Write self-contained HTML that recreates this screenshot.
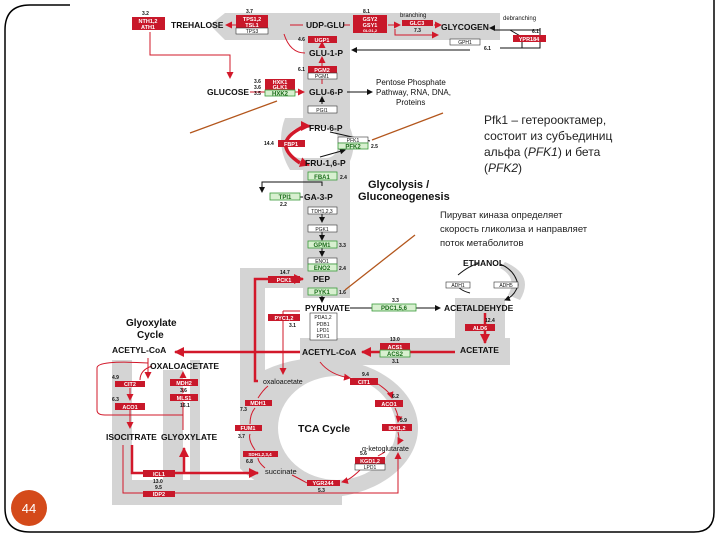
<!DOCTYPE html>
<html><head><meta charset="utf-8"><style>
html,body{margin:0;padding:0;background:#fff}
svg{display:block}
text{font-family:"Liberation Sans",sans-serif}
.m{font-size:8.5px;font-weight:bold;fill:#111}
.n{font-size:5px;font-weight:bold;fill:#111}
.e{font-size:5.5px;font-weight:bold;fill:#fff}
.eb{font-size:5px;fill:#111}
.eg{font-size:6px;font-weight:bold;fill:#1a6b1a}
.ru{font-family:"Liberation Sans","DejaVu Sans",sans-serif;fill:#222}
</style></head><body>
<svg width="720" height="540" viewBox="0 0 720 540" xmlns="http://www.w3.org/2000/svg">
<defs>
<marker id="ak" markerWidth="6" markerHeight="6" refX="5" refY="3" orient="auto" markerUnits="userSpaceOnUse"><path d="M0,0L6,3L0,6z" fill="#111"/></marker>
<marker id="ar" markerWidth="7" markerHeight="7" refX="6" refY="3.5" orient="auto" markerUnits="userSpaceOnUse"><path d="M0,0L7,3.5L0,7z" fill="#d2182a"/></marker>
<marker id="arB" markerWidth="10" markerHeight="10" refX="9" refY="5" orient="auto" markerUnits="userSpaceOnUse"><path d="M0,0L10,5L0,10z" fill="#d2182a"/></marker>
</defs>
<!-- frame -->
<path d="M70,5 H30 Q5,5 5,30 V508 Q5,532 30,532 H694 Q714,532 714,512 V0" fill="none" stroke="#000" stroke-width="1.5"/>
<!-- gray bands -->
<g fill="#d4d4d4">
<path d="M210,25 L225,13 H500 V40 H350 V290 H303 V40 H225 Z"/>
<rect x="303" y="13" width="47" height="285"/>
<path d="M285,118 Q275,145 290,170 H345 Q362,145 345,118 Z"/>
<rect x="240" y="268" width="110" height="20"/>
<rect x="240" y="268" width="25" height="130"/>
<ellipse cx="320" cy="428" rx="98" ry="70"/>
<rect x="300" y="338" width="210" height="27"/>
<rect x="455" y="298" width="50" height="67"/>
<path d="M505,262 Q535,275 520,300 L508,295 Q518,278 500,268 Z"/>
<path d="M112,360 H200 V505 H330 V480 H190 V360 Z" />
<rect x="112" y="360" width="20" height="145"/>
<rect x="163" y="370" width="20" height="110"/>
<rect x="112" y="480" width="230" height="25"/>
</g>
<ellipse cx="337" cy="428" rx="59" ry="52" fill="#fff"/>
<rect x="133" y="372" width="29" height="92" fill="#fff"/>
<rect x="200" y="372" width="40" height="100" fill="#fff"/>
<rect x="288" y="128" width="50" height="30" fill="#fff" rx="12"/>

<!-- black connectors -->
<g stroke="#111" stroke-width="1" fill="none">
<line x1="347" y1="92" x2="372" y2="92" marker-end="url(#ak)"/>
<line x1="322" y1="104" x2="322" y2="97" marker-end="url(#ak)"/>
<path d="M330,132 L370,141" />
<path d="M320,157 L345,150" marker-end="url(#ak)"/>
<path d="M322,186 V182 H262 V192" marker-end="url(#ak)"/>
<line x1="303" y1="197" x2="300" y2="197"/>
<line x1="322" y1="214" x2="322" y2="222" marker-end="url(#ak)"/>
<line x1="322" y1="232" x2="322" y2="240" marker-end="url(#ak)"/>
<line x1="322" y1="248" x2="322" y2="256" marker-end="url(#ak)"/>
<line x1="322" y1="296" x2="322" y2="302" marker-end="url(#ak)"/>
<line x1="350" y1="308" x2="440" y2="308" marker-end="url(#ak)"/>
<path d="M522,48 V37 L510,30 M500,48 H540 V30 H495" />
<path d="M470,50 H352" marker-end="url(#ak)"/>
<path d="M540,28 V48" />
<path d="M495,28 L490,28" marker-end="url(#ak)"/>
<path d="M458,275 Q470,265 478,264 M500,264 Q515,270 518,285 Q515,296 505,300" marker-end="url(#ak)"/>
<path d="M470,293 Q458,290 455,282"/>
</g>
<!-- red thin connectors -->
<g stroke="#d2182a" stroke-width="1" fill="none">
<path d="M150,32 V55 H230 V78" marker-end="url(#ar)"/>
<line x1="236" y1="25" x2="226" y2="25" marker-end="url(#ar)"/>
<path d="M290,25 L303,25" />
<path d="M350,25 L343,25"/>
<path d="M388,25 H400" marker-end="url(#ar)"/>
<path d="M434,25 H441" marker-end="url(#ar)"/>
<path d="M395,29 V35 H438" marker-end="url(#ar)"/>
<path d="M284,34 Q290,53 305,53"/>
<line x1="322" y1="48" x2="322" y2="42" marker-end="url(#ar)"/>
<line x1="322" y1="84" x2="322" y2="57" marker-end="url(#ar)"/>
<line x1="250" y1="92" x2="304" y2="92" marker-end="url(#ar)"/>
<path d="M283,311 H300 M283,311 V374" marker-end="url(#ar)"/>
<path d="M320,362 Q330,375 350,378" marker-end="url(#ar)"/>
<path d="M378,384 Q390,392 392,398" marker-end="url(#ar)"/>
<path d="M395,408 Q399,416 398,422" marker-end="url(#ar)"/>
<path d="M398,432 Q400,440 398,444" marker-end="url(#ar)"/>
<path d="M385,452 L378,456"/>
<path d="M360,470 Q350,480 342,482" marker-end="url(#ar)"/>
<path d="M307,483 Q298,478 292,475"/>
<path d="M265,468 Q258,462 258,458"/>
<path d="M255,450 Q248,440 250,434"/>
<path d="M250,424 Q250,414 255,408"/>
<path d="M258,398 Q263,390 268,386"/>
<path d="M148,358 V378" marker-end="url(#ar)"/>
<path d="M130,388 V400" marker-end="url(#ar)"/>
<path d="M130,410 V428" marker-end="url(#ar)"/>
<path d="M148,363 Q97,360 97,368 V410 Q97,415 105,415 H183 V402"/>
<path d="M183,393 V388"/>
<path d="M183,378 V372" marker-end="url(#ar)"/>
<path d="M183,408 V430"/>
<path d="M152,366 Q140,370 140,380"/>
<path d="M123,445 V493 H143 M175,493 H398 V453" marker-end="url(#ar)"/>
</g>
<!-- red thick -->
<g stroke="#d2182a" fill="none" stroke-width="2.5">
<path d="M258,381 H255 V279 H303" marker-end="url(#arB)"/>
<line x1="300" y1="352" x2="175" y2="352" marker-end="url(#arB)"/>
<line x1="455" y1="352" x2="362" y2="352" marker-end="url(#arB)"/>
<line x1="485" y1="313" x2="485" y2="343" marker-end="url(#arB)"/>
<path d="M132,445 V473 H258" marker-end="url(#arB)"/>
<path d="M184,473 V448" marker-end="url(#arB)"/>
<path d="M303,127 Q270,143 300,163" stroke-width="3.5"/>
<path d="M303,163 Q306,164 309,165" marker-end="url(#arB)"/>
<path d="M300,128 Q306,126 310,126" marker-end="url(#arB)"/>
</g>
<!-- brown pointer arrows -->
<g stroke="#b3561c" stroke-width="1.3">
<line x1="190" y1="133" x2="277" y2="101"/>
<line x1="443" y1="113" x2="372" y2="140"/>
<line x1="415" y1="235" x2="345" y2="290"/>
</g>

<!-- red enzyme boxes -->
<g fill="#c8182a">
<rect x="132" y="17" width="33" height="13"/>
<rect x="236" y="15" width="32" height="13"/>
<rect x="353" y="15" width="34" height="18"/>
<rect x="402" y="20" width="31" height="6"/>
<rect x="513" y="35" width="33" height="7"/>
<rect x="308" y="36" width="29" height="7"/>
<rect x="308" y="66" width="29" height="7"/>
<rect x="265" y="79" width="30" height="11"/>
<rect x="278" y="140" width="27" height="7"/>
<rect x="268" y="276" width="32" height="7"/>
<rect x="268" y="314" width="32" height="7"/>
<rect x="465" y="324" width="30" height="7"/>
<rect x="380" y="343" width="30" height="7"/>
<rect x="115" y="381" width="30" height="6"/>
<rect x="115" y="403" width="30" height="7"/>
<rect x="170" y="379" width="28" height="7"/>
<rect x="170" y="394" width="28" height="7"/>
<rect x="143" y="470" width="32" height="7"/>
<rect x="143" y="491" width="32" height="6"/>
<rect x="350" y="378" width="28" height="7"/>
<rect x="375" y="400" width="28" height="7"/>
<rect x="382" y="424" width="30" height="7"/>
<rect x="355" y="457" width="30" height="7"/>
<rect x="307" y="480" width="33" height="6"/>
<rect x="243" y="451" width="35" height="6"/>
<rect x="235" y="425" width="27" height="6"/>
<rect x="245" y="400" width="27" height="6"/>
</g>
<g fill="#fff" stroke="#333" stroke-width="0.6">
<rect x="236" y="28" width="32" height="6"/>
<rect x="450" y="39" width="30" height="6"/>
<rect x="308" y="73" width="29" height="6"/>
<rect x="308" y="106" width="29" height="7"/>
<rect x="338" y="137" width="30" height="6"/>
<rect x="308" y="207" width="29" height="7"/>
<rect x="308" y="225" width="29" height="7"/>
<rect x="308" y="258" width="29" height="6"/>
<rect x="310" y="313" width="27" height="27"/>
<rect x="446" y="282" width="24" height="6"/>
<rect x="494" y="282" width="24" height="6"/>
<rect x="355" y="464" width="30" height="6"/>
</g>
<g fill="#d8f0d0" stroke="#3a9a3a" stroke-width="0.8">
<rect x="265" y="90" width="30" height="6"/>
<rect x="338" y="143" width="30" height="6"/>
<rect x="308" y="172" width="29" height="8"/>
<rect x="270" y="193" width="30" height="7"/>
<rect x="308" y="241" width="29" height="7"/>
<rect x="308" y="264" width="29" height="7"/>
<rect x="308" y="288" width="29" height="7"/>
<rect x="372" y="304" width="44" height="7"/>
<rect x="380" y="350" width="30" height="7"/>
</g>
<!-- enzyme labels -->
<g text-anchor="middle">
<text class="e" x="148" y="23">NTH1,2</text><text class="e" x="148" y="29">ATH1</text>
<text class="e" x="252" y="21">TPS1,2</text><text class="e" x="252" y="27">TSL1</text><text class="eb" x="252" y="33">TPS3</text>
<text class="e" x="370" y="21">GSY2</text><text class="e" x="370" y="27">GSY1</text><text class="e" x="370" y="32" style="font-size:4px">GLG1,2</text>
<text class="e" x="417" y="25">GLC3</text><text class="e" x="529" y="41">YPR184</text><text class="eb" x="465" y="44">GPH1</text>
<text class="e" x="322" y="42">UGP1</text><text class="e" x="322" y="72">PGM2</text><text class="eb" x="322" y="78">PGM1</text>
<text class="e" x="280" y="84">HXK1</text><text class="e" x="280" y="89">GLK1</text><text class="eg" x="280" y="95.5">HXK2</text>
<text class="eb" x="322" y="112">PGI1</text>
<text class="e" x="291" y="146">FBP1</text><text class="eb" x="353" y="142">PFK1</text><text class="eg" x="353" y="148.5">PFK2</text>
<text class="eg" x="322" y="179">FBA1</text><text class="eg" x="285" y="199">TPI1</text>
<text class="eb" x="322" y="213">TDH1,2,3</text><text class="eb" x="322" y="231">PGK1</text><text class="eg" x="322" y="247">GPM1</text>
<text class="eb" x="322" y="263">ENO1</text><text class="eg" x="322" y="270">ENO2</text><text class="eg" x="322" y="294">PYK1</text>
<text class="e" x="284" y="282">PCK1</text><text class="e" x="284" y="320">PYC1,2</text>
<text class="eb" x="323" y="319">PDA1,2</text><text class="eb" x="323" y="326">PDB1</text><text class="eb" x="323" y="332">LPD1</text><text class="eb" x="323" y="338">PDX1</text>
<text class="eg" x="394" y="310">PDC1,5,6</text>
<text class="eb" x="458" y="287">ADH1</text><text class="eb" x="506" y="287">ADH5</text>
<text class="e" x="480" y="330">ALD6</text><text class="e" x="395" y="349">ACS1</text><text class="eg" x="395" y="356">ACS2</text>
<text class="e" x="130" y="386">CIT2</text><text class="e" x="130" y="409">ACO1</text><text class="e" x="184" y="385">MDH2</text><text class="e" x="184" y="400">MLS1</text>
<text class="e" x="159" y="476">ICL1</text><text class="e" x="159" y="496">IDP2</text>
<text class="e" x="364" y="384">CIT1</text><text class="e" x="389" y="406">ACO1</text><text class="e" x="397" y="430">IDH1,2</text>
<text class="e" x="370" y="463">KGD1,2</text><text class="eb" x="370" y="469">LPD1</text><text class="e" x="323" y="485">YGR244</text>
<text class="e" x="260" y="456" style="font-size:4.5px">SDH1,2,3,4</text><text class="e" x="248" y="430">FUM1</text><text class="e" x="258" y="405">MDH1</text>
</g>
<!-- numbers -->
<g class="n">
<text x="142" y="15">3.2</text><text x="246" y="13">3.7</text><text x="363" y="13">8.1</text><text x="414" y="32">7.3</text>
<text x="532" y="33">6.1</text><text x="484" y="50">6.1</text><text x="298" y="41">4.6</text><text x="298" y="71">6.1</text>
<text x="254" y="83">3.6</text><text x="254" y="89">3.6</text><text x="254" y="95">3.5</text>
<text x="264" y="145">14.4</text><text x="371" y="148">2.5</text><text x="340" y="179">2.4</text><text x="280" y="206">2.2</text>
<text x="339" y="247">3.3</text><text x="339" y="270">2.4</text><text x="280" y="274">14.7</text><text x="339" y="294">1.6</text>
<text x="289" y="327">3.1</text><text x="392" y="302">3.3</text><text x="485" y="322">12.4</text><text x="390" y="341">13.0</text><text x="392" y="363">3.1</text>
<text x="112" y="379">4.9</text><text x="112" y="401">6.3</text><text x="180" y="392">3.6</text><text x="180" y="407">16.1</text>
<text x="153" y="483">13.0</text><text x="155" y="489">9.5</text>
<text x="362" y="376">9.4</text><text x="392" y="398">6.2</text><text x="400" y="422">5.9</text><text x="360" y="455">5.6</text>
<text x="318" y="492">5.3</text><text x="246" y="463">6.8</text><text x="238" y="438">3.7</text><text x="240" y="411">7.3</text>
<text x="400" y="17" style="font-weight:normal;font-size:6px">branching</text>
<text x="503" y="20" style="font-weight:normal;font-size:6px">debranching</text>
</g>
<!-- metabolites -->
<g class="m">
<text x="171" y="28">TREHALOSE</text><text x="306" y="28">UDP-GLU</text><text x="441" y="30">GLYCOGEN</text>
<text x="309" y="56">GLU-1-P</text><text x="207" y="95">GLUCOSE</text><text x="309" y="95">GLU-6-P</text>
<text x="309" y="131">FRU-6-P</text><text x="305" y="166">FRU-1,6-P</text><text x="304" y="200">GA-3-P</text>
<text x="313" y="282">PEP</text><text x="305" y="311">PYRUVATE</text><text x="444" y="311">ACETALDEHYDE</text>
<text x="463" y="266">ETHANOL</text><text x="460" y="353">ACETATE</text><text x="302" y="355">ACETYL-CoA</text>
<text x="112" y="353">ACETYL-CoA</text><text x="150" y="369">OXALOACETATE</text>
<text x="106" y="440">ISOCITRATE</text><text x="161" y="440">GLYOXYLATE</text>
</g>
<g style="font-size:8px;fill:#111">
<text x="263" y="384" style="font-size:7px">oxaloacetate</text><text x="265" y="474" style="font-size:7.5px">succinate</text>
<text x="362" y="451" style="font-size:7px">α-ketoglutarate</text>
<text x="376" y="85" style="font-size:8px">Pentose Phosphate</text><text x="376" y="95">Pathway, RNA, DNA,</text><text x="396" y="105">Proteins</text>
</g>
<g style="font-weight:bold;fill:#111">
<text x="368" y="188" style="font-size:11px">Glycolysis /</text><text x="358" y="200" style="font-size:11px">Gluconeogenesis</text>
<text x="126" y="326" style="font-size:10px">Glyoxylate</text><text x="137" y="338" style="font-size:10px">Cycle</text>
<text x="298" y="432" style="font-size:10.5px">TCA Cycle</text>
</g>
<!-- russian text -->
<g class="ru" style="font-size:12px">
<text x="484" y="124">Pfk1 – гетерооктамер,</text>
<text x="484" y="140">состоит из субъединиц</text>
<text x="484" y="156">альфа (<tspan font-style="italic">PFK1</tspan>) и бета</text>
<text x="484" y="172">(<tspan font-style="italic">PFK2</tspan>)</text>
</g>
<g class="ru" style="font-size:9.5px">
<text x="440" y="218">Пируват киназа определяет</text>
<text x="440" y="232">скорость гликолиза и направляет</text>
<text x="440" y="246">поток метаболитов</text>
</g>
<circle cx="29" cy="508" r="18" fill="#d44a1a"/>
<text x="29" y="513" text-anchor="middle" style="font-size:13px;fill:#fff">44</text>
</svg>
</body></html>
